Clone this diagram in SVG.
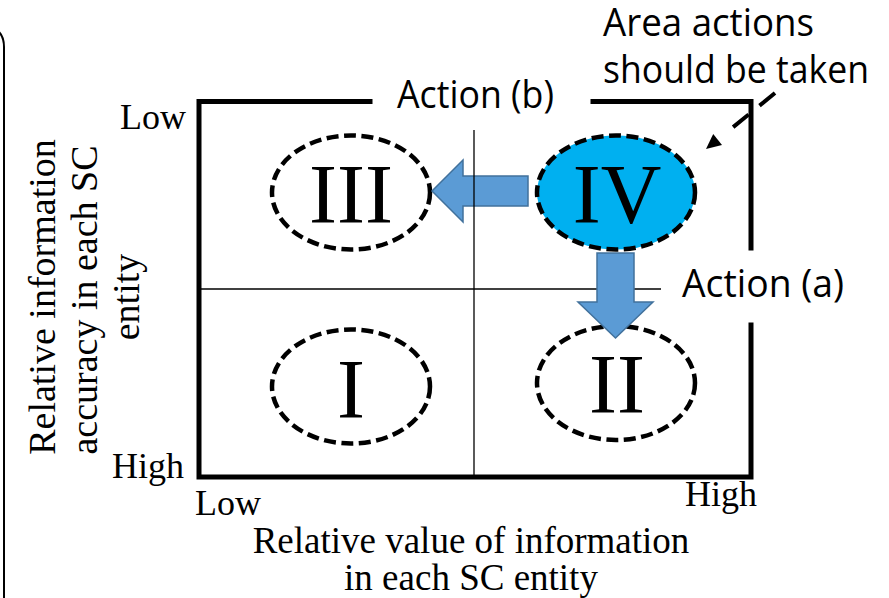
<svg xmlns="http://www.w3.org/2000/svg" width="889" height="598" viewBox="0 0 889 598">
  <style>
    .serif { font-family: "Liberation Serif", "Times New Roman", serif; fill: #000; }
    .axis { font-size: 36px; }
    .numeral { font-size: 84px; text-anchor: middle; }
    .sans { font-family: "Open Sans", "Liberation Sans", sans-serif; font-size: 38px; fill: #000; }
    .frame { fill: none; stroke: #000; stroke-width: 5; stroke-linecap: square; }
    .thin { fill: none; stroke: #000; stroke-width: 1.3; }
    .zone { stroke: #000; stroke-width: 4.5; stroke-dasharray: 12 5.5; }
    .block { fill: #5B9BD5; stroke: #41719C; stroke-width: 1.5; stroke-linejoin: miter; }
    .pointer { fill: none; stroke: #000; stroke-width: 4; stroke-dasharray: 20 14; }
  </style>

  <rect width="889" height="598" fill="#fff"/>

  <!-- outer panel border (right edge of a rounded frame) -->
  <path d="M -30 27 H -16 Q 4 27 4 47 V 600" fill="none" stroke="#000" stroke-width="2"/>

  <!-- matrix frame with openings for the action labels -->
  <g id="frame">
    <path class="frame" d="M 370 101.5 H 199 V 477 H 751 V 325"/>
    <path class="frame" d="M 593 101.5 H 751 V 248"/>
    <line class="thin" x1="200" y1="289" x2="661" y2="289"/>
  </g>

  <!-- axis labels -->
  <g id="y-axis">
    <text class="serif axis" x="186" y="129" text-anchor="end">Low</text>
    <text class="serif axis" x="184" y="478" text-anchor="end">High</text>
    <g class="serif" font-size="38" text-anchor="middle">
      <text transform="translate(55 297) rotate(-90)">Relative information</text>
      <text transform="translate(97 300) rotate(-90)">accuracy in each SC</text>
      <text transform="translate(139 297) rotate(-90)">entity</text>
    </g>
  </g>
  <g id="x-axis">
    <text class="serif axis" x="195" y="515">Low</text>
    <text class="serif axis" x="757" y="506" text-anchor="end">High</text>
    <text class="serif" font-size="37" x="471" y="553" text-anchor="middle">Relative value of information</text>
    <text class="serif" font-size="37" x="471" y="590" text-anchor="middle">in each SC entity</text>
  </g>

  <!-- quadrant zones -->
  <g id="zone-III">
    <ellipse class="zone" cx="351" cy="192.5" rx="79" ry="57" fill="#fff"/>
    <text class="serif numeral" x="351" y="223">III</text>
  </g>
  <g id="zone-I">
    <ellipse class="zone" cx="351" cy="386.5" rx="79" ry="57" fill="#fff"/>
    <text class="serif numeral" x="351" y="418">I</text>
  </g>
  <g id="zone-II">
    <ellipse class="zone" cx="616" cy="383" rx="79" ry="57" fill="#fff"/>
    <text class="serif numeral" x="617" y="413">II</text>
  </g>
  <g id="zone-IV">
    <ellipse class="zone" cx="616" cy="192.5" rx="79" ry="57" fill="#00B0F0"/>
    <text class="serif numeral" x="617" y="223">IV</text>
  </g>

  <!-- action arrows and callout pointer -->
  <g id="connectors">
    <polygon class="block" points="528,176 528,206 463,206 463,222 432,191 463,160 463,176"/>
    <polygon class="block" points="597,253 634,253 634,302 653,302 615.5,338 578,302 597,302"/>
    <path class="pointer" d="M 775 93 L 732.5 127.6"/>
    <polygon points="706,149 713.2,134.1 722,144.9" fill="#000"/>
  </g>

  <!-- vertical divider sits above the left arrow -->
  <line class="thin" x1="474" y1="130" x2="474" y2="477"/>

  <!-- annotation labels -->
  <g id="label-action-b">
    <text class="sans" x="397" y="108" textLength="157" lengthAdjust="spacingAndGlyphs">Action (b)</text>
  </g>
  <g id="label-action-a">
    <text class="sans" x="682" y="297" textLength="162" lengthAdjust="spacingAndGlyphs">Action (a)</text>
  </g>
  <g id="label-area">
    <text class="sans" x="603" y="36" textLength="211" lengthAdjust="spacingAndGlyphs">Area actions</text>
    <text class="sans" x="603" y="83" textLength="266" lengthAdjust="spacingAndGlyphs">should be taken</text>
  </g>
</svg>
